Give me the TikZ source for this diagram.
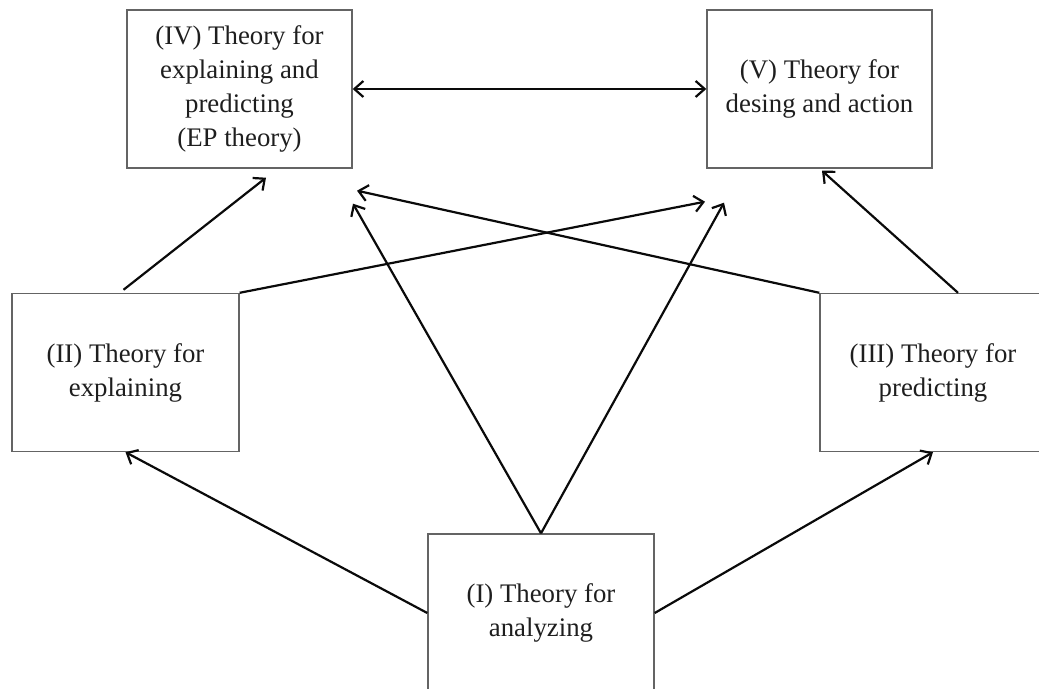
\documentclass[tikz,border=0pt]{standalone}
\usepackage{fontspec}
\setmainfont{Liberation Serif}
\usetikzlibrary{arrows.meta, calc}
\definecolor{colBorder}{RGB}{100,100,100}
\definecolor{colText}{RGB}{30,30,30}
\definecolor{colArrow}{RGB}{10,10,10}
\tikzset{
    theorybox/.style={rectangle, draw=colBorder, line width=0.7pt, inner sep=0pt,
        minimum width=113pt, minimum height=79pt, align=center, text=colText,
        font=\fontsize{13.4}{17}\selectfont},
    arrow/.style={-{Straight Barb[length=4.5pt, width=8pt]}, line width=1.1pt, draw=colArrow},
    dblarrow/.style={{Straight Barb[length=4.5pt, width=8pt]}-{Straight Barb[length=4.5pt, width=8pt]}, line width=1.1pt, draw=colArrow}
}

\begin{document}
\begin{tikzpicture}[x=0.5pt, y=-0.5pt]

    \clip (0,0) rectangle (1039,689);

    \node[theorybox, minimum width=112.5pt] (epth) at (239.5,89) {(IV) Theory for\\explaining and\\predicting\\(EP theory)};
    \node[theorybox, minimum width=112.5pt] (desg) at (819.5,89) {(V) Theory for\\desing and action};
    \node[theorybox, minimum width=113.5pt] (expl) at (125.5,372.5) {(II) Theory for\\explaining};
    \node[theorybox] (pred) at (933,372.5) {(III) Theory for\\predicting};
    \node[theorybox] (anlz) at (541,613) {(I) Theory for\\analyzing};

    % free ends of the crossing arrows
    \coordinate (epthA) at ($(epth.south)+(26.5,9)$);
    \coordinate (epthB) at ($(epth.south)+(113.5,35)$);
    \coordinate (epthC) at ($(epth.south)+(117.5,22)$);
    \coordinate (desgA) at ($(desg.south)+(-114.5,33)$);
    \coordinate (desgB) at ($(desg.south)+(-95.5,34)$);
    \coordinate (desgC) at ($(desg.south)+(2.5,2)$);
    \coordinate (predS) at ($(pred.north)+(25,0)$);

    \draw[dblarrow] (epth) -- (desg);
    \draw[arrow] ($(expl.north)+(-2,-3)$) -- (epthA);
    \draw[arrow] (expl.north east) -- (desgA);
    \draw[arrow] (anlz.north) -- (epthB);
    \draw[arrow] (anlz.north) -- (desgB);
    \draw[arrow] (pred.north west) -- (epthC);
    \draw[arrow] (predS) -- (desgC);
    \draw[arrow] (anlz.west) -- (expl.south);
    \draw[arrow] (anlz.east) -- (pred.south);

\end{tikzpicture}
\end{document}
